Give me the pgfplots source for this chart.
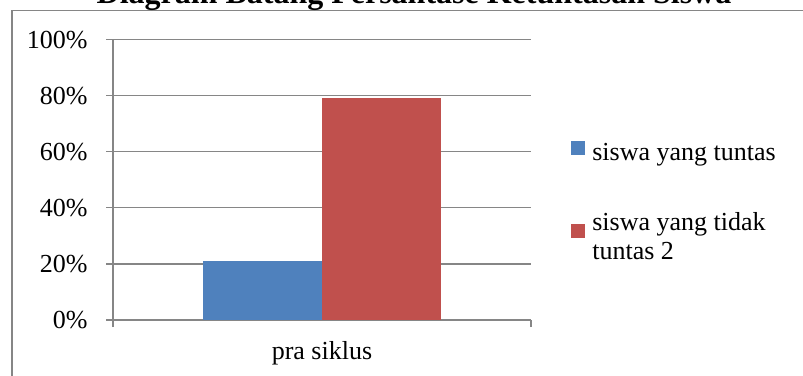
\documentclass[border=0pt]{standalone}
\usepackage{fontspec}
\setmainfont{Liberation Serif}
\usepackage{pgfplots}
\pgfplotsset{compat=1.18}
\definecolor{xblue}{HTML}{4F81BD}
\definecolor{xred}{HTML}{C0504D}
\definecolor{xgrid}{HTML}{868686}
\newcommand{\bigfont}{\fontsize{26bp}{29bp}\selectfont}
\begin{document}
\begin{tikzpicture}[x=1bp,y=1bp]
\useasboundingbox (0,0) rectangle (803,375);
\draw[xgrid, line width=1.2bp] (12,-20) rectangle (830,364.3);
\node[anchor=base, inner sep=0pt, font=\fontsize{32bp}{38bp}\selectfont\bfseries] at (414,371.7) {Diagram Batang Persantase Ketuntasan Siswa};
\begin{axis}[
  at={(113bp,55bp)}, anchor=south west,
  width=418bp, height=280.4bp, scale only axis,
  xmin=-1, xmax=1, ymin=0, ymax=100,
  ytick={0,20,40,60,80,100},
  yticklabels={0\%,20\%,40\%,60\%,80\%,100\%},
  ymajorgrids, grid style={xgrid, line width=1.2bp},
  axis x line*=bottom, axis y line*=left,
  axis line style={xgrid, line width=1.2bp, -},
  tick align=outside, major tick length=7bp,
  tick style={xgrid, line width=1.2bp},
  xtick={-1,1}, xticklabels={},
  extra x ticks={0}, extra x tick labels={pra siklus},
  extra x tick style={major tick length=0pt, xticklabel style={yshift=-18bp}},
  ticklabel style={font=\bigfont},
  yticklabel style={xshift=-15bp},
  legend style={draw=none, fill=none, font=\bigfont, at={(1.096,0.64)}, anchor=north west,
    inner sep=0pt, cells={anchor=west, align=left}, row sep=46bp,
    /tikz/every odd column/.append style={column sep=5bp}},
  legend cell align=left,
]
\addplot[ybar, bar width=119bp, bar shift=-59.5bp, fill=xblue, draw=none,
  legend image code/.code={\fill[xblue] (0bp,-2bp) rectangle (14bp,12bp);}]
  coordinates {(0,21)};
\addlegendentry{siswa yang tuntas}
\addplot[ybar, bar width=119bp, bar shift=59.5bp, fill=xred, draw=none,
  legend image code/.code={\fill[xred] (0bp,-2bp) rectangle (14bp,12bp);}]
  coordinates {(0,79)};
\addlegendentry{siswa yang tidak\\tuntas 2}
\end{axis}
\end{tikzpicture}
\end{document}
